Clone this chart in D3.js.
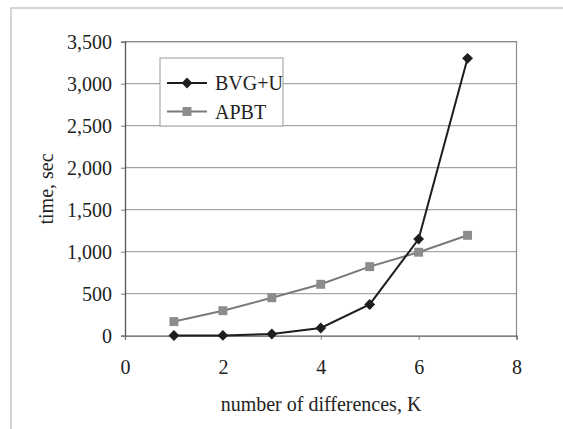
<!DOCTYPE html>
<html>
<head>
<meta charset="utf-8">
<script src="https://cdn.jsdelivr.net/npm/d3@7"></script>
<style>
  body { margin: 0; background: #fff; }
  svg text { font-family: "Liberation Serif", "DejaVu Serif", serif; fill: #222; }
</style>
</head>
<body>
<svg id="chart"></svg>
<script>
const kValues = [1, 2, 3, 4, 5, 6, 7];
const bvgTimes = [2, 3, 20, 92, 372, 1150, 3302];
const apbtTimes = [168, 298, 452, 612, 822, 994, 1195];
const yTicks = [0, 500, 1000, 1500, 2000, 2500, 3000, 3500];
const xTicks = [0, 2, 4, 6, 8];

const chartSize = { width: 563, height: 429 };
const margin = { left: 125, right: 46.5, top: 41.7, bottom: 93.3 };
const width = chartSize.width - margin.left - margin.right;
const height = chartSize.height - margin.top - margin.bottom;
const fontSize = 20;

const svg = d3.select("#chart")
  .attr("width", chartSize.width)
  .attr("height", chartSize.height);

// outer frame of the scanned figure
svg.append("path")
  .attr("d", `M11,${chartSize.height} V8 H${chartSize.width}`)
  .attr("fill", "none")
  .attr("stroke", "#c8c8c8")
  .attr("stroke-width", 1.5);

const g = svg.append("g")
  .attr("transform", `translate(${margin.left},${margin.top})`);

const x = d3.scaleLinear().domain([0, 8]).range([0, width]);
const y = d3.scaleLinear().domain([0, 3500]).range([height, 0]);

// gridlines
g.append("g")
  .selectAll("line")
  .data(yTicks.slice(1))
  .join("line")
  .attr("x1", 0)
  .attr("x2", width)
  .attr("y1", d => y(d))
  .attr("y2", d => y(d))
  .attr("stroke", "#8f8f8f")
  .attr("stroke-width", 1);

// plot border (top and right)
g.append("path")
  .attr("d", `M0,0 H${width} V${height}`)
  .attr("fill", "none")
  .attr("stroke", "#8a8a8a")
  .attr("stroke-width", 1.2);

const yAxis = d3.axisLeft(y)
  .tickValues(yTicks)
  .tickFormat(d3.format(","))
  .tickSize(4)
  .tickPadding(9);

const xAxis = d3.axisBottom(x)
  .tickValues(xTicks)
  .tickSize(4)
  .tickPadding(20);

const ya = g.append("g").call(yAxis);
const xa = g.append("g").attr("transform", `translate(0,${height})`).call(xAxis);

[ya, xa].forEach(a => {
  a.select(".domain").attr("stroke", "#555").attr("stroke-width", 1.3);
  a.selectAll(".tick line").attr("stroke", "#777");
  a.selectAll(".tick text")
    .attr("font-size", fontSize)
    .attr("fill", "#222");
});

g.append("text")
  .attr("transform", "rotate(-90)")
  .attr("x", -(189 - margin.top))
  .attr("y", 48 - margin.left)
  .attr("text-anchor", "middle")
  .attr("dominant-baseline", "middle")
  .attr("font-size", fontSize)
  .text("time, sec");

g.append("text")
  .attr("x", 321 - margin.left)
  .attr("y", 411 - margin.top)
  .attr("text-anchor", "middle")
  .attr("font-size", fontSize)
  .text("number of differences, K");

const series = [
  { name: "BVG+U", values: bvgTimes, color: "#1e1e1e", fill: "#1e1e1e", marker: "diamond" },
  { name: "APBT", values: apbtTimes, color: "#7a7a7a", fill: "#8c8c8c", marker: "square" }
];

const line = d3.line()
  .x((d, i) => x(kValues[i]))
  .y(d => y(d));

const symbolFor = m => m === "diamond"
  ? d3.symbol().type(d3.symbolDiamond2).size(75)
  : d3.symbol().type(d3.symbolSquare).size(80);

series.slice().reverse().forEach(s => {
  g.append("path")
    .datum(s.values)
    .attr("d", line)
    .attr("fill", "none")
    .attr("stroke", s.color)
    .attr("stroke-width", 2);
});

series.slice().reverse().forEach(s => {
  g.append("g")
    .selectAll("path")
    .data(s.values)
    .join("path")
    .attr("transform", (d, i) => `translate(${x(kValues[i])},${y(d)})`)
    .attr("d", symbolFor(s.marker))
    .attr("fill", s.fill);
});

// legend
const legend = svg.append("g").attr("transform", "translate(160,58)");
legend.append("rect")
  .attr("width", 123)
  .attr("height", 68)
  .attr("fill", "#fff")
  .attr("stroke", "#9a9a9a")
  .attr("stroke-width", 1);

series.forEach((s, i) => {
  const row = legend.append("g").attr("transform", `translate(0,${25 + i * 28.5})`);
  row.append("line")
    .attr("x1", 7)
    .attr("x2", 47)
    .attr("stroke", s.color)
    .attr("stroke-width", 2);
  row.append("path")
    .attr("transform", "translate(27,0)")
    .attr("d", symbolFor(s.marker))
    .attr("fill", s.fill);
  row.append("text")
    .attr("x", 55)
    .attr("dy", "0.35em")
    .attr("font-size", fontSize)
    .text(s.name);
});
</script>
</body>
</html>
